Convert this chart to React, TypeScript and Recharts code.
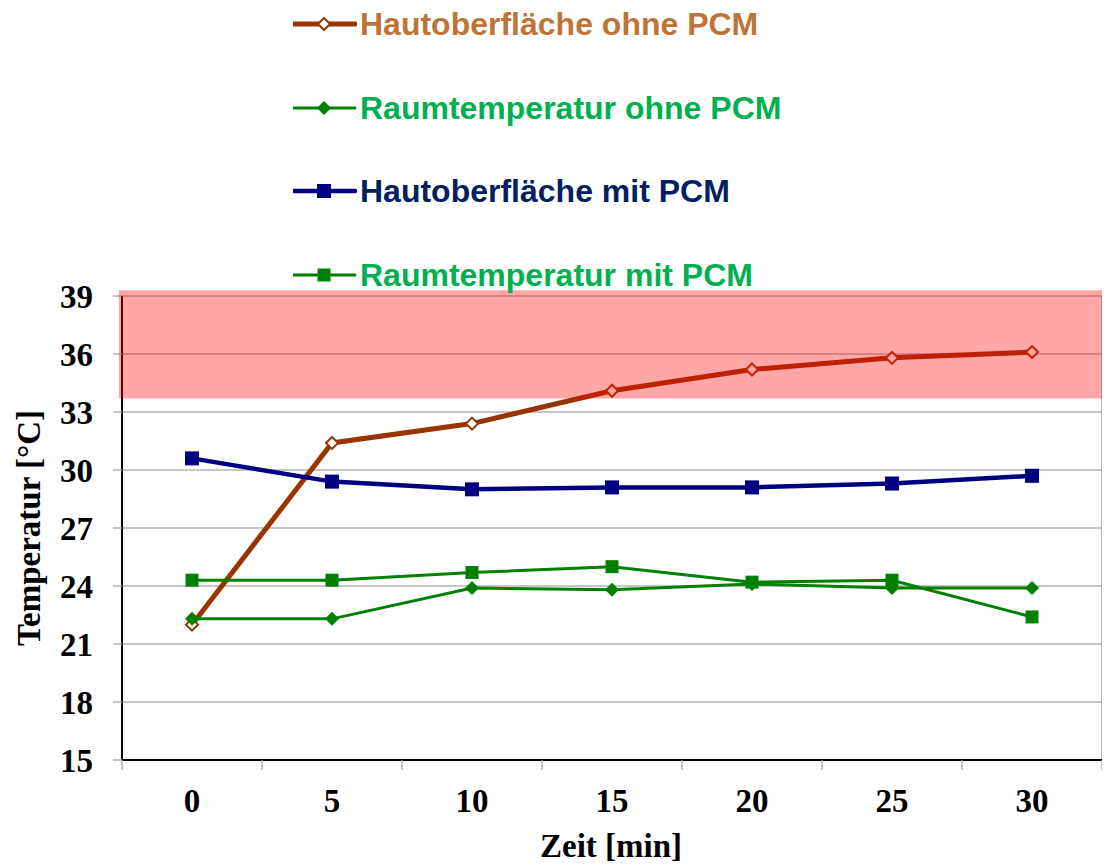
import React from 'react';
import {
  LineChart, Line, XAxis, YAxis, CartesianGrid, ReferenceArea, ReferenceLine, Legend,
} from 'recharts';

// ---- data ----
const minutes = [0, 5, 10, 15, 20, 25, 30];
const hautOhnePCM = [22.0, 31.4, 32.4, 34.1, 35.2, 35.8, 36.1];
const raumOhnePCM = [22.3, 22.3, 23.9, 23.8, 24.1, 23.9, 23.9];
const hautMitPCM = [30.6, 29.4, 29.0, 29.1, 29.1, 29.3, 29.7];
const raumMitPCM = [24.3, 24.3, 24.7, 25.0, 24.2, 24.3, 22.4];
const yTicks = [15, 18, 21, 24, 27, 30, 33, 36, 39];
const xLabelTicks = [0, 5, 10, 15, 20, 25, 30];
const xBoundaryTicks = [-2.5, 2.5, 7.5, 12.5, 17.5, 22.5, 27.5, 32.5];
const warnBand = { from: 33.7, to: 39.3 };

const data = minutes.map((m, i) => ({
  t: m,
  hautOhne: hautOhnePCM[i],
  raumOhne: raumOhnePCM[i],
  hautMit: hautMitPCM[i],
  raumMit: raumMitPCM[i],
}));

type Marker = 'openDiamond' | 'diamond' | 'square';
const series: { key: string; name: string; stroke: string; width: number; text: string; marker: Marker; size: number }[] = [
  { key: 'hautOhne', name: 'Hautoberfläche ohne PCM', stroke: '#993300', width: 5, text: '#BE7436', marker: 'openDiamond', size: 6 },
  { key: 'raumOhne', name: 'Raumtemperatur ohne PCM', stroke: '#008000', width: 3, text: '#00B050', marker: 'diamond', size: 7 },
  { key: 'hautMit', name: 'Hautoberfläche mit PCM', stroke: '#000080', width: 4.5, text: '#002060', marker: 'square', size: 7 },
  { key: 'raumMit', name: 'Raumtemperatur mit PCM', stroke: '#008000', width: 3, text: '#00B050', marker: 'square', size: 6.5 },
];

const serifFont = '"Liberation Serif", "Times New Roman", serif';
const sansFont = '"Liberation Sans", Arial, sans-serif';

function drawMarker(marker: Marker, cx: number, cy: number, s: number, color: string, key?: string) {
  if (marker === 'square') {
    return <rect key={key} x={cx - s} y={cy - s} width={2 * s} height={2 * s} fill={color} stroke="none" />;
  }
  const pts = `${cx},${cy - s} ${cx + s},${cy} ${cx},${cy + s} ${cx - s},${cy}`;
  if (marker === 'openDiamond') {
    return <polygon key={key} points={pts} fill="#FFFFFF" stroke={color} strokeWidth={2} />;
  }
  return <polygon key={key} points={pts} fill={color} stroke="none" />;
}

const makeDot = (cfg: typeof series[number]) => (props: any) => {
  const { cx, cy, index } = props;
  if (cx == null || cy == null) return <g key={`d-${cfg.key}-${index}`} />;
  return drawMarker(cfg.marker, cx, cy, cfg.size, cfg.stroke, `d-${cfg.key}-${index}`);
};

const LegendContent = () => (
  <div style={{ position: 'relative', width: 560, height: 290 }}>
    {series.map((s, i) => (
      <div
        key={s.key}
        style={{
          position: 'absolute',
          left: 0,
          top: 16 + i * 83.5 - 20,
          height: 40,
          display: 'flex',
          alignItems: 'center',
          whiteSpace: 'nowrap',
        }}
      >
        <svg width={64} height={40} style={{ display: 'block' }}>
          <line x1={1} y1={20} x2={62} y2={20} stroke={s.stroke} strokeWidth={s.width} strokeLinecap="round" />
          {drawMarker(s.marker, 31, 20, s.size, s.stroke)}
        </svg>
        <span
          style={{
            fontFamily: sansFont,
            fontWeight: 'bold',
            fontSize: 32,
            lineHeight: '40px',
            color: s.text,
            marginLeft: 3,
          }}
        >
          {s.name}
        </span>
      </div>
    ))}
  </div>
);

const XTick = (props: any) => {
  const { x, y, payload } = props;
  const v = payload.value;
  const axisY = y - 10 - 19;
  if (xLabelTicks.includes(v)) {
    return (
      <text x={x} y={axisY + 52} textAnchor="middle" fontFamily={serifFont} fontWeight="bold" fontSize={33} fill="#000">
        {v}
      </text>
    );
  }
  return <line x1={x} y1={axisY} x2={x} y2={axisY + 10} stroke="#A6A6A6" strokeWidth={1.3} />;
};

export default function App() {
  return (
    <LineChart
      width={1100}
      height={855}
      data={data}
      margin={{ top: 288, right: 6, left: 0, bottom: 0 }}
    >
      <CartesianGrid vertical={false} stroke="#B3B3B3" strokeWidth={1.3} />
      <XAxis
        dataKey="t"
        type="number"
        domain={[-2.5, 32.5]}
        ticks={[...xBoundaryTicks, ...xLabelTicks].sort((a, b) => a - b)}
        interval={0}
        height={103}
        tickSize={10}
        tickMargin={19}
        tickLine={false}
        axisLine={{ stroke: '#000', strokeWidth: 2 }}
        tick={<XTick />}
        label={(p: any) => {
          const vb = p.viewBox;
          return (
            <text x={vb.x + vb.width / 2 - 1} y={vb.y + 97} textAnchor="middle" fontFamily={serifFont} fontWeight="bold" fontSize={33} fill="#000">
              Zeit [min]
            </text>
          );
        }}
      />
      <YAxis
        type="number"
        domain={[15, 39]}
        ticks={yTicks}
        interval={0}
        width={114}
        tickSize={9}
        tickMargin={20}
        tickLine={{ stroke: '#A6A6A6', strokeWidth: 1.3 }}
        axisLine={{ stroke: '#000', strokeWidth: 2 }}
        tick={{ fontFamily: serifFont, fontWeight: 'bold', fontSize: 33, fill: '#000' }}
        label={(p: any) => {
          const vb = p.viewBox;
          const cx = vb.x + 32;
          const cy = vb.y + vb.height / 2;
          return (
            <text
              x={cx}
              y={cy}
              transform={`rotate(-90 ${cx} ${cy})`}
              textAnchor="middle"
              fontFamily={serifFont}
              fontWeight="bold"
              fontSize={33}
              fill="#000"
            >
              Temperatur [°C]
            </text>
          );
        }}
      />
      <ReferenceLine x={32.5} stroke="#A0A0A0" strokeWidth={1.5} />
      <Legend
        layout="horizontal"
        align="center"
        verticalAlign="middle"
        wrapperStyle={{ top: 0, left: 285, width: 560, height: 290 }}
        content={<LegendContent />}
      />
      {series.map((s) => (
        <Line
          key={s.key}
          type="linear"
          dataKey={s.key}
          name={s.name}
          stroke={s.stroke}
          strokeWidth={s.width}
          dot={makeDot(s)}
          activeDot={false}
          isAnimationActive={false}
        />
      ))}
      <ReferenceArea
        x1={-2.61}
        x2={32.5}
        y1={warnBand.from}
        y2={warnBand.to}
        ifOverflow="visible"
        fill="#FF0000"
        fillOpacity={0.35}
        stroke="none"
        zIndex={2000}
      />
    </LineChart>
  );
}
